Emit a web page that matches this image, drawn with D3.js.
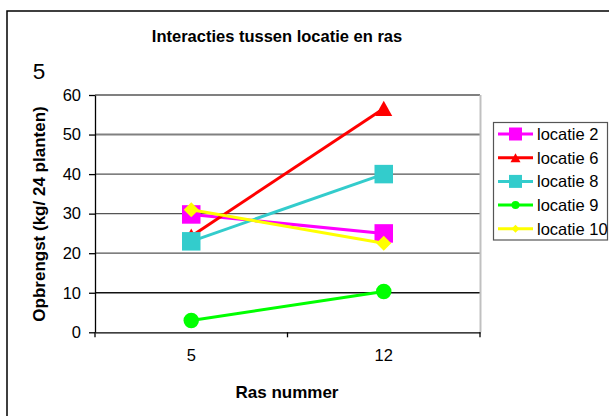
<!DOCTYPE html>
<html>
<head>
<meta charset="utf-8">
<script src="https://cdn.jsdelivr.net/npm/d3@7"></script>
<style>
  html, body { margin: 0; padding: 0; background: #fff; }
  svg { display: block; font-family: "Liberation Sans", Arial, sans-serif; }
</style>
</head>
<body>
<svg id="chart" width="609" height="416"></svg>
<script>
// ---- data ----
const categories = ["5", "12"];
const seriesNames = ["locatie 2", "locatie 6", "locatie 8", "locatie 9", "locatie 10"];
const locatie2  = [29.8, 25.0];
const locatie6  = [24.3, 56.6];
const locatie8  = [23.0, 40.0];
const locatie9  = [3.0, 10.3];
const locatie10 = [31.0, 22.5];
const yTicks = [0, 10, 20, 30, 40, 50, 60];
const colors = ["#ff00ff", "#ff0000", "#33cccc", "#00ff00", "#ffff00"];
const markers = ["square", "triangle", "square", "circle", "diamond"];
const titleText = "Interacties tussen locatie en ras";
const cornerText = "5";
const xTitle = "Ras nummer";
const yTitle = "Opbrengst (kg/ 24 planten)";

const series = seriesNames.map((name, i) => ({
  name, color: colors[i], marker: markers[i],
  values: [locatie2, locatie6, locatie8, locatie9, locatie10][i]
}));

const svg = d3.select("#chart");

// outer chart frame
svg.append("rect").attr("x", 7).attr("y", 11).attr("width", 640).attr("height", 440)
  .attr("fill", "#fff").attr("stroke", "#000").attr("stroke-width", 1.5);

const x = d3.scaleBand().domain(categories).range([95, 480]);
const y = d3.scaleLinear().domain([0, 60]).range([332.3, 95]);

// gridlines
const gridColor = v => v >= 50 ? "#808080" : (v >= 20 ? "#555" : "#111");
svg.append("g").selectAll("line").data(yTicks.filter(v => v > 0)).join("line")
  .attr("x1", 95).attr("x2", 480)
  .attr("y1", d => y(d)).attr("y2", d => y(d))
  .attr("stroke", d => gridColor(d))
  .attr("stroke-width", d => d >= 50 ? 2 : 1.3);

// plot area right border
svg.append("line").attr("x1", 480.5).attr("x2", 480.5).attr("y1", y(60)).attr("y2", y(0))
  .attr("stroke", "#c0c0c0").attr("stroke-width", 2);

// y axis
const yAxis = svg.append("g").attr("transform", "translate(95,0)")
  .call(d3.axisLeft(y).tickValues(yTicks).tickSize(6).tickPadding(8).tickSizeOuter(0));
yAxis.select(".domain").attr("stroke", "#000").attr("stroke-width", 1.3);
yAxis.selectAll(".tick line").attr("stroke", "#000").attr("stroke-width", 1.3);
yAxis.selectAll(".tick text").attr("font-size", 16.5).attr("fill", "#000")
  .attr("font-family", "Liberation Sans, Arial, sans-serif");

// x axis
const xAxis = svg.append("g").attr("transform", `translate(0,${y(0)})`)
  .call(d3.axisBottom(x).tickSize(0).tickPadding(17).tickSizeOuter(0));
xAxis.select(".domain").attr("stroke", "#000").attr("stroke-width", 1.3);
xAxis.selectAll(".tick text").attr("font-size", 16.5).attr("fill", "#000")
  .attr("font-family", "Liberation Sans, Arial, sans-serif");
// tick marks at category boundaries
const bounds = [0, 1, 2].map(i => x.range()[0] + i * x.step());
xAxis.append("g").selectAll("line").data(bounds).join("line")
  .attr("x1", d => d).attr("x2", d => d).attr("y1", 0).attr("y2", 5)
  .attr("stroke", "#000").attr("stroke-width", 1.3);

// markers
function drawMarker(g, type, cx, cy, size, color) {
  if (type === "square") {
    g.append("rect").attr("x", cx - size / 2).attr("y", cy - size / 2)
      .attr("width", size).attr("height", size).attr("fill", color);
  } else if (type === "triangle") {
    const h = size * 0.9;
    g.append("path").attr("d", `M${cx},${cy - h / 2}L${cx + size / 2},${cy + h / 2}L${cx - size / 2},${cy + h / 2}Z`)
      .attr("fill", color);
  } else if (type === "circle") {
    g.append("circle").attr("cx", cx).attr("cy", cy).attr("r", size / 2).attr("fill", color);
  } else if (type === "diamond") {
    g.append("path").attr("d", `M${cx},${cy - size / 2}L${cx + size / 2},${cy}L${cx},${cy + size / 2}L${cx - size / 2},${cy}Z`)
      .attr("fill", color);
  }
}
const markerSize = { square: 18.5, triangle: 17, circle: 15.5, diamond: 15 };
const legendMarkerSize = { square: 13, triangle: 10, circle: 8, diamond: 8 };

const line = d3.line().x((d, i) => x(categories[i]) + x.bandwidth() / 2).y(d => y(d));
series.forEach(s => {
  const g = svg.append("g");
  g.append("path").attr("d", line(s.values)).attr("fill", "none")
    .attr("stroke", s.color).attr("stroke-width", 3);
  s.values.forEach((v, i) => drawMarker(g, s.marker, x(categories[i]) + x.bandwidth() / 2, y(v), markerSize[s.marker], s.color));
});

// title & labels
svg.append("text").attr("x", 277).attr("y", 42).attr("text-anchor", "middle")
  .attr("font-size", 16.5).attr("font-weight", "bold").text(titleText);
svg.append("text").attr("x", 39).attr("y", 79).attr("text-anchor", "middle")
  .attr("font-size", 22.5).text(cornerText);
svg.append("text").attr("x", 287).attr("y", 398).attr("text-anchor", "middle")
  .attr("font-size", 17).attr("font-weight", "bold").text(xTitle);
svg.append("text").attr("transform", "translate(45,214) rotate(-90)").attr("text-anchor", "middle")
  .attr("font-size", 17).attr("font-weight", "bold").text(yTitle);

// legend
const lg = svg.append("g");
lg.append("rect").attr("x", 493.5).attr("y", 122.5).attr("width", 114).attr("height", 117.5)
  .attr("fill", "#fff").attr("stroke", "#555").attr("stroke-width", 1.2);
series.forEach((s, i) => {
  const cy = 134 + i * 23.7;
  lg.append("line").attr("x1", 498).attr("x2", 533).attr("y1", cy).attr("y2", cy)
    .attr("stroke", s.color).attr("stroke-width", 3);
  drawMarker(lg, s.marker, 515.5, cy, legendMarkerSize[s.marker], s.color);
  lg.append("text").attr("x", 537).attr("y", cy + 6).attr("font-size", 16.5).text(s.name);
});
</script>
</body>
</html>
